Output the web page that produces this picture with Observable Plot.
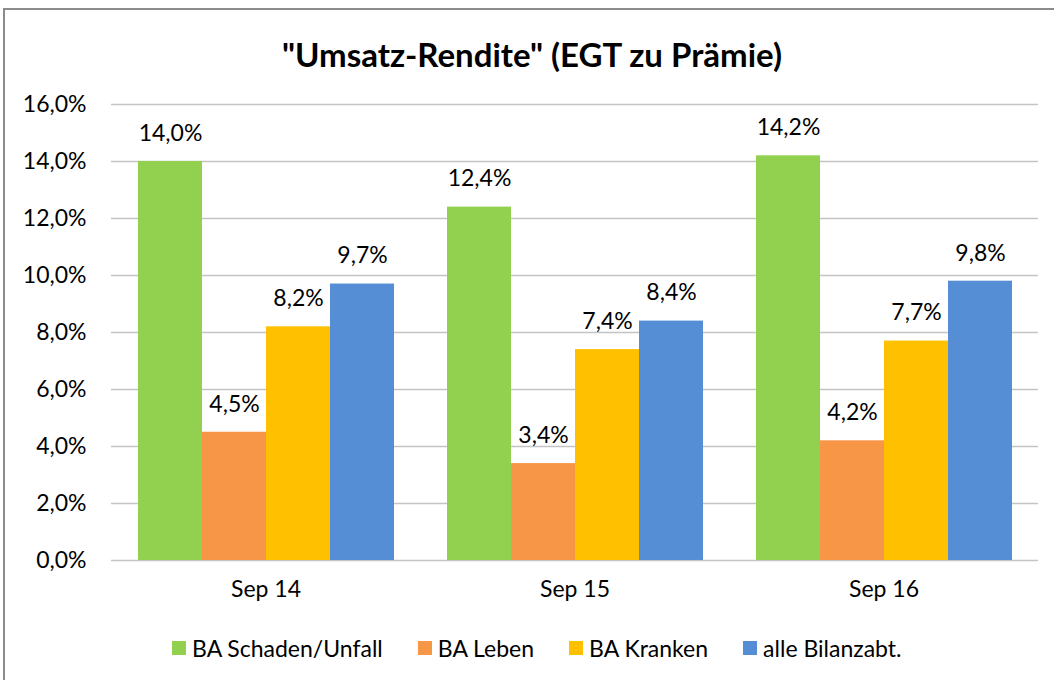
<!DOCTYPE html>
<html><head><meta charset="utf-8">
<script src="https://cdn.jsdelivr.net/npm/d3@7"></script>
<script src="https://cdn.jsdelivr.net/npm/@observablehq/plot@0.6"></script>
<style>
body{margin:0;background:#fff;}
#wrap{position:relative;width:1054px;height:680px;overflow:hidden;font-family:Lato,"Open Sans",sans-serif;color:#000;background:#fff;}
#frame{position:absolute;left:3px;top:8px;width:1070px;height:700px;border:2px solid #8c8c8c;}
#title{position:absolute;top:34px;left:0;width:1064px;text-align:center;font-weight:bold;font-size:33px;line-height:40px;}
#chart{position:absolute;left:0;top:90px;}
#legend{position:absolute;top:633px;left:172px;display:flex;gap:35px;font-size:23px;line-height:30px;white-space:nowrap;}
#legend .item{display:flex;align-items:center;}
#legend .sw{width:14px;height:14px;margin-right:6px;display:inline-block;}
</style>
</head><body>
<div id="wrap">
  <div id="frame"></div>
  <div id="title">"Umsatz-Rendite" (EGT zu Prämie)</div>
  <div id="chart"></div>
  <div id="legend"></div>
</div>
<script>
const periods = ["Sep 14", "Sep 15", "Sep 16"];
const seriesNames = ["BA Schaden/Unfall", "BA Leben", "BA Kranken", "alle Bilanzabt."];
const schadenUnfall = [14.0, 12.4, 14.2];
const leben = [4.5, 3.4, 4.2];
const kranken = [8.2, 7.4, 7.7];
const alleBilanzabt = [9.7, 8.4, 9.8];
const colors = ["#92d050", "#f79646", "#ffc000", "#558ed5"];
const yTicks = [0, 2, 4, 6, 8, 10, 12, 14, 16];

const seriesValues = [schadenUnfall, leben, kranken, alleBilanzabt];
const data = periods.flatMap((p, i) => seriesNames.map((s, j) => ({period: p, series: s, value: seriesValues[j][i]})));
const fmt = v => v.toFixed(1).replace(".", ",") + "%";

const chart = Plot.plot({
  width: 1054,
  height: 520,
  marginTop: 14,
  marginBottom: 50,
  marginLeft: 110,
  marginRight: 16,
  style: {fontFamily: "Lato, 'Open Sans', sans-serif", fontSize: "23px", color: "#000", background: "transparent", overflow: "visible"},
  fx: {domain: periods, padding: 0, label: null},
  x: {domain: seriesNames, paddingInner: 0, paddingOuter: 0.38, axis: null},
  y: {domain: [0, 16], ticks: yTicks, label: null},
  color: {domain: seriesNames, range: colors},
  marks: [
    Plot.gridY(yTicks, {stroke: "#c4c4c4", strokeOpacity: 1, strokeWidth: 1.3}),
    Plot.axisY(yTicks, {tickSize: 0, tickPadding: 25, line: true, stroke: "#c4c4c4", tickFormat: fmt, label: null, fontSize: 23}),
    Plot.axisFx({anchor: "bottom", tickSize: 0, tickPadding: 20, label: null, fontSize: 23}),
    Plot.barY(data, {fx: "period", x: "series", y: "value", fill: "series"}),
    Plot.text(data, {fx: "period", x: "series", y: "value", text: d => fmt(d.value), dy: -28, fontSize: 23, fill: "#000"})
  ]
});
document.getElementById("chart").appendChild(chart);

const legend = document.getElementById("legend");
seriesNames.forEach((s, i) => {
  const item = document.createElement("div");
  item.className = "item";
  const sw = document.createElement("span");
  sw.className = "sw";
  sw.style.background = colors[i];
  const t = document.createElement("span");
  t.textContent = s;
  item.appendChild(sw);
  item.appendChild(t);
  legend.appendChild(item);
});
</script>
</body></html>
